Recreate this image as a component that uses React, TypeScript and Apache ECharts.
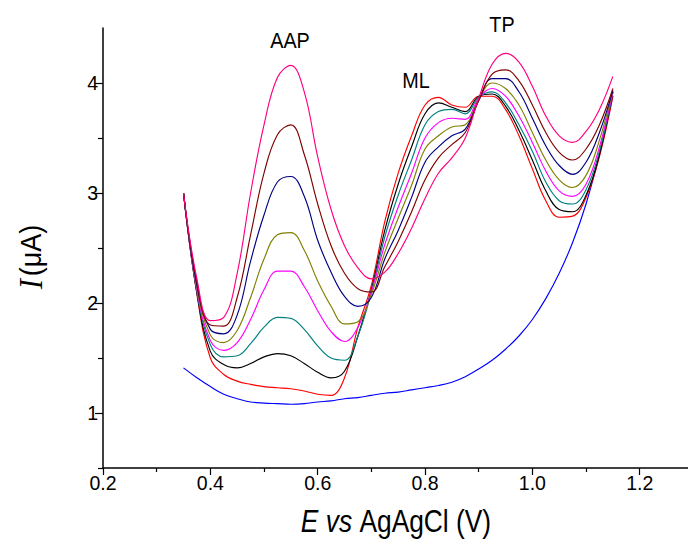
import React, { useEffect, useRef } from "react";
import * as echarts from "echarts";

const X = [0.35, 0.375, 0.4, 0.425, 0.45, 0.475, 0.5, 0.525, 0.55, 0.575, 0.6, 0.625, 0.65, 0.675, 0.7, 0.725, 0.75, 0.775, 0.8, 0.825, 0.85, 0.875, 0.9, 0.925, 0.95, 0.975, 1.0, 1.025, 1.05, 1.075, 1.1, 1.125, 1.15];

const blank = [1.41, 1.32, 1.24, 1.17, 1.13, 1.1, 1.09, 1.085, 1.08, 1.085, 1.1, 1.11, 1.13, 1.14, 1.16, 1.18, 1.19, 1.21, 1.23, 1.25, 1.28, 1.33, 1.4, 1.48, 1.58, 1.7, 1.85, 2.04, 2.27, 2.55, 2.9, 3.35, 3.88];
const red = [3.0, 2.08, 1.5, 1.35, 1.29, 1.26, 1.24, 1.23, 1.22, 1.2, 1.17, 1.16, 1.32, 1.78, 2.16, 2.74, 3.18, 3.52, 3.8, 3.87, 3.8, 3.78, 3.88, 3.88, 3.76, 3.52, 3.22, 2.93, 2.78, 2.79, 2.96, 3.33, 3.88];
const black = [3.0, 2.09, 1.56, 1.44, 1.41, 1.45, 1.51, 1.54, 1.52, 1.45, 1.37, 1.32, 1.38, 1.7, 2.12, 2.66, 3.08, 3.42, 3.72, 3.82, 3.78, 3.74, 3.88, 3.9, 3.79, 3.57, 3.3, 3.02, 2.85, 2.83, 2.98, 3.35, 3.92];
const teal = [3.0, 2.1, 1.62, 1.51, 1.52, 1.63, 1.78, 1.87, 1.86, 1.76, 1.61, 1.5, 1.48, 1.7, 2.1, 2.6, 2.98, 3.3, 3.62, 3.74, 3.76, 3.72, 3.87, 3.92, 3.82, 3.62, 3.38, 3.1, 2.93, 2.9, 3.03, 3.38, 3.92];
const magenta = [3.0, 2.12, 1.66, 1.57, 1.64, 1.85, 2.12, 2.29, 2.29, 2.15, 1.93, 1.74, 1.65, 1.78, 2.1, 2.53, 2.87, 3.18, 3.5, 3.64, 3.68, 3.67, 3.86, 3.95, 3.88, 3.7, 3.46, 3.2, 3.02, 2.97, 3.08, 3.42, 3.92];
const olive = [3.0, 2.14, 1.71, 1.64, 1.75, 2.05, 2.4, 2.62, 2.64, 2.48, 2.2, 1.97, 1.81, 1.83, 2.08, 2.46, 2.77, 3.07, 3.4, 3.52, 3.6, 3.62, 3.85, 4.0, 3.95, 3.8, 3.55, 3.3, 3.12, 3.05, 3.16, 3.48, 3.93];
const navy = [3.0, 2.16, 1.76, 1.72, 1.89, 2.38, 2.8, 3.1, 3.15, 2.97, 2.57, 2.28, 2.06, 1.97, 2.05, 2.4, 2.66, 2.96, 3.28, 3.42, 3.52, 3.58, 3.84, 4.04, 4.04, 3.92, 3.68, 3.43, 3.25, 3.17, 3.28, 3.55, 3.93];
const brown = [3.0, 2.19, 1.8, 1.79, 2.05, 2.62, 3.18, 3.53, 3.62, 3.35, 2.9, 2.52, 2.27, 2.13, 2.1, 2.33, 2.56, 2.83, 3.12, 3.32, 3.44, 3.55, 3.84, 4.08, 4.12, 4.02, 3.8, 3.55, 3.37, 3.3, 3.4, 3.62, 3.95];
const pink = [3.0, 2.22, 1.84, 1.87, 2.27, 3.0, 3.62, 4.05, 4.16, 3.92, 3.33, 2.85, 2.52, 2.32, 2.22, 2.28, 2.45, 2.68, 2.95, 3.18, 3.32, 3.5, 3.86, 4.17, 4.27, 4.19, 3.97, 3.7, 3.52, 3.46, 3.56, 3.76, 4.06];

const curves = [
  { name: "blank", color: "#0000FF", values: blank },
  { name: "c1", color: "#FF0000", values: red },
  { name: "c2", color: "#000000", values: black },
  { name: "c3", color: "#008080", values: teal },
  { name: "c4", color: "#FF00FF", values: magenta },
  { name: "c5", color: "#808000", values: olive },
  { name: "c6", color: "#000080", values: navy },
  { name: "c7", color: "#800000", values: brown },
  { name: "c8", color: "#FF0080", values: pink },
];

const xMajor = [0.2, 0.4, 0.6, 0.8, 1.0, 1.2];
const xMinor = [0.3, 0.5, 0.7, 0.9, 1.1];
const yMajor = [1, 2, 3, 4];
const yMinor = [0.5, 1.5, 2.5, 3.5];

const peakLabels = [
  { text: "AAP", x: 290, y: 40 },
  { text: "ML", x: 416, y: 80 },
  { text: "TP", x: 502, y: 24 },
];

export default function App() {
  const ref = useRef<HTMLDivElement>(null);
  useEffect(() => {
    if (!ref.current) return;
    const chart = echarts.init(ref.current, null, { renderer: "svg" });
    const font = "Liberation Sans";
    const axisBase = {
      type: "value",
      splitLine: { show: false },
    };
    chart.setOption({
      animation: false,
      backgroundColor: "#fff",
      grid: { left: 103, right: 0, top: 28, bottom: 73 },
      xAxis: [
        {
          ...axisBase,
          min: 0.2,
          max: 1.29,
          position: "bottom",
          axisLine: { show: true, onZero: false, lineStyle: { color: "#000", width: 1.5 } },
          axisTick: { show: true, length: 7, customValues: xMajor, lineStyle: { color: "#000", width: 1.2 } },
          axisLabel: {
            customValues: xMajor,
            formatter: (v: number) => v.toFixed(1),
            color: "#000",
            fontSize: 19.5,
            fontFamily: font,
            margin: 5,
          },
        },
        {
          ...axisBase,
          min: 0.2,
          max: 1.29,
          position: "bottom",
          offset: 0,
          axisLine: { show: false },
          axisTick: { show: true, length: 4, customValues: xMinor, lineStyle: { color: "#000", width: 1.2 } },
          axisLabel: { show: false },
        },
      ],
      yAxis: [
        {
          ...axisBase,
          min: 0.5,
          max: 4.5,
          position: "left",
          axisLine: { show: true, onZero: false, lineStyle: { color: "#000", width: 1.5 } },
          axisTick: { show: true, length: 8, customValues: yMajor, lineStyle: { color: "#000", width: 1.2 } },
          axisLabel: {
            customValues: yMajor,
            color: "#000",
            fontSize: 19.5,
            fontFamily: font,
            margin: 5,
          },
        },
        {
          ...axisBase,
          min: 0.5,
          max: 4.5,
          position: "left",
          offset: 0,
          axisLine: { show: false },
          axisTick: { show: true, length: 5, customValues: yMinor, lineStyle: { color: "#000", width: 1.2 } },
          axisLabel: { show: false },
        },
      ],
      series: curves.map((c) => ({
        name: c.name,
        type: "line",
        xAxisIndex: 0,
        yAxisIndex: 0,
        data: X.map((x, i) => [x, c.values[i]]),
        showSymbol: false,
        smooth: 0.4,
        lineStyle: { color: c.color, width: 1.15 },
        itemStyle: { color: c.color },
        z: 2,
      })),
      graphic: [
        ...peakLabels.map((p) => ({
          type: "text",
          x: p.x,
          y: p.y,
          scaleX: 0.9,
          style: {
            text: p.text,
            fontSize: 22,
            fontFamily: font,
            fill: "#000",
            align: "center",
            verticalAlign: "middle",
          },
        })),
        {
          type: "text",
          x: 396,
          y: 521,
          scaleX: 0.85,
          style: {
            text: "{i|E} {i|vs} {n|AgAgCl (V)}",
            align: "center",
            verticalAlign: "middle",
            fill: "#000",
            fontSize: 31,
            fontFamily: font,
            rich: {
              i: { fontSize: 31, fontFamily: font, fontStyle: "italic", fill: "#000" },
              n: { fontSize: 31, fontFamily: font, fill: "#000" },
            },
          },
        },
        {
          type: "text",
          x: 30,
          y: 257,
          rotation: Math.PI / 2,
          scaleX: 0.9,
          style: {
            text: "{s|I}{n|(μA)}",
            align: "center",
            verticalAlign: "middle",
            fill: "#000",
            fontSize: 30,
            fontFamily: font,
            rich: {
              s: { fontSize: 34, fontFamily: "Liberation Serif", fontStyle: "italic", fill: "#000", padding: [0, 3, 0, 0] },
              n: { fontSize: 30, fontFamily: font, fill: "#000" },
            },
          },
        },
      ],
    });
    return () => chart.dispose();
  }, []);
  return (
    <div
      ref={ref}
      style={{ position: "fixed", left: 0, top: 0, width: 688, height: 541, background: "#fff" }}
    />
  );
}
